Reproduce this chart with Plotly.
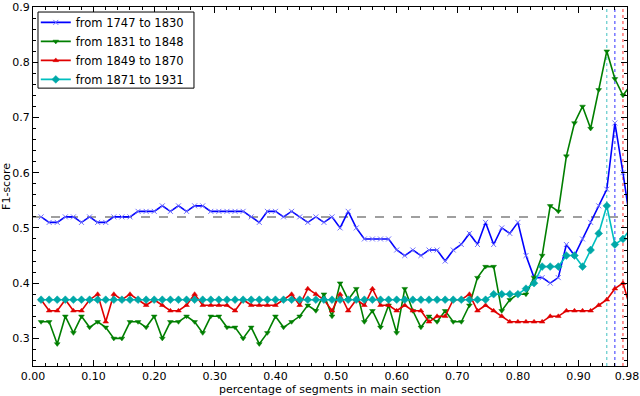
import plotly.graph_objects as go

# x grid: segment fractions (74 points, step 1/75)
x_vals = [i / 75 for i in range(1, 75)]

labels = ["from 1747 to 1830", "from 1831 to 1848", "from 1849 to 1870", "from 1871 to 1931"]

blue = [0.52, 0.51, 0.51, 0.52, 0.52, 0.51, 0.52, 0.51, 0.51, 0.52,
        0.52, 0.52, 0.53, 0.53, 0.53, 0.54, 0.53, 0.54, 0.53, 0.54,
        0.54, 0.53, 0.53, 0.53, 0.53, 0.53, 0.52, 0.51, 0.53, 0.53,
        0.52, 0.53, 0.52, 0.51, 0.52, 0.51, 0.52, 0.50, 0.53, 0.50,
        0.48, 0.48, 0.48, 0.48, 0.46, 0.45, 0.46, 0.45, 0.46, 0.46,
        0.44, 0.46, 0.47, 0.49, 0.47, 0.51, 0.47, 0.50, 0.49, 0.51,
        0.45, 0.41, 0.41, 0.40, 0.41, 0.47, 0.45, 0.48, 0.51, 0.54,
        0.57, 0.69, 0.60, 0.50]

green = [0.33, 0.33, 0.29, 0.34, 0.31, 0.34, 0.32, 0.33, 0.32, 0.30,
         0.30, 0.33, 0.33, 0.32, 0.34, 0.30, 0.33, 0.33, 0.34, 0.33,
         0.31, 0.34, 0.34, 0.32, 0.32, 0.30, 0.32, 0.29, 0.31, 0.34,
         0.32, 0.33, 0.34, 0.36, 0.35, 0.38, 0.34, 0.40, 0.37, 0.39,
         0.33, 0.35, 0.32, 0.36, 0.31, 0.39, 0.35, 0.32, 0.34, 0.33,
         0.35, 0.33, 0.33, 0.36, 0.41, 0.43, 0.43, 0.35, 0.37, 0.38,
         0.38, 0.41, 0.45, 0.54, 0.53, 0.63, 0.69, 0.72, 0.68, 0.75,
         0.82, 0.77, 0.74, 0.76]

red = [0.37, 0.35, 0.35, 0.37, 0.35, 0.35, 0.37, 0.38, 0.33, 0.38,
       0.37, 0.38, 0.37, 0.36, 0.37, 0.36, 0.35, 0.35, 0.36, 0.38,
       0.36, 0.36, 0.36, 0.36, 0.35, 0.37, 0.36, 0.36, 0.36, 0.36,
       0.37, 0.38, 0.36, 0.39, 0.38, 0.37, 0.35, 0.38, 0.35, 0.37,
       0.36, 0.39, 0.36, 0.36, 0.35, 0.36, 0.35, 0.35, 0.33, 0.34,
       0.34, 0.37, 0.37, 0.38, 0.35, 0.36, 0.35, 0.34, 0.33, 0.33,
       0.33, 0.33, 0.33, 0.34, 0.34, 0.35, 0.35, 0.35, 0.35, 0.36,
       0.37, 0.39, 0.40, 0.35]

teal = [0.37] * 56 + [0.38, 0.38, 0.38, 0.38, 0.39, 0.40, 0.43, 0.43, 0.43, 0.45,
                      0.45, 0.43, 0.46, 0.49, 0.54, 0.47, 0.48, 0.50]

baseline = 0.52
x_ticks = [0.0, 0.1, 0.2, 0.3, 0.4, 0.5, 0.6, 0.7, 0.8, 0.9, 0.98]
x_ticktext = ["0.00", "0.10", "0.20", "0.30", "0.40", "0.50", "0.60", "0.70", "0.80", "0.90", "0.98"]
y_ticks = [0.3, 0.4, 0.5, 0.6, 0.7, 0.8, 0.9]

series = [
    (labels[0], blue, "#0000ff", "x-thin", "#7070ff", 5),
    (labels[1], green, "#007f00", "triangle-down", "#007f00", 5),
    (labels[2], red, "#e00000", "triangle-up", "#e00000", 5),
    (labels[3], teal, "#00bfbf", "diamond", "#00a8a8", 6),
]

fig = go.Figure()

# vertical dotted lines at each series maximum (drawn under the data)
vcolors = ["#3030ff", "#40c0c0", "#ff3030", "#40c0c0"]
for (name, vals, col, sym, mcol, msz), vc in zip(series, vcolors):
    if name == labels[1]:
        continue
    imax = max(range(len(vals)), key=lambda i: vals[i])
    fig.add_shape(type="line", xref="x", yref="paper", x0=x_vals[imax], x1=x_vals[imax],
                  y0=0, y1=1, line=dict(color=vc, width=1, dash="dot"), layer="below")

fig.add_shape(type="line", xref="paper", yref="y", x0=0, x1=1, y0=baseline, y1=baseline,
              line=dict(color="#808080", width=1.5, dash="dash"), layer="below")

# legend frame
fig.add_shape(type="rect", xref="paper", yref="paper", x0=0.0084, x1=0.271, y0=0.774, y1=0.986,
              line=dict(color="black", width=1), fillcolor="white", layer="above")

for name, vals, col, sym, mcol, msz in series:
    if sym == "x-thin":
        marker = dict(symbol=sym, size=msz, line=dict(color=mcol, width=1), color=mcol)
    else:
        marker = dict(symbol=sym, size=msz, color=mcol, line=dict(color=mcol, width=0.5))
    fig.add_trace(go.Scatter(x=x_vals, y=vals, mode="lines+markers", name=name,
                             line=dict(color=col, width=1.6), marker=marker))

axis_common = dict(showline=True, linecolor="black", linewidth=1, mirror="ticks",
                   ticks="inside", ticklen=6, tickcolor="black", showgrid=False,
                   zeroline=False, automargin=False, tickfont=dict(size=11, color="black"))

fig.update_xaxes(range=[0, 0.98], tickvals=x_ticks, ticktext=x_ticktext, ticklabelstandoff=0,
                 minor=dict(dtick=0.02, tick0=0, ticks="inside", ticklen=3, tickcolor="black", showgrid=False),
                 title=dict(text="percentage of segments in main section", font=dict(size=11, color="black"), standoff=0),
                 **axis_common)
fig.update_yaxes(range=[0.25, 0.9], tickvals=y_ticks, ticktext=[f"{v:.1f}" for v in y_ticks],
                 minor=dict(dtick=0.02, tick0=0, ticks="inside", ticklen=3, tickcolor="black", showgrid=False),
                 title=dict(text="F1-score", font=dict(size=11, color="black"), standoff=2),
                 **axis_common)

fig.update_layout(
    width=640, height=396,
    margin=dict(l=33, r=13, t=7, b=30),
    paper_bgcolor="white", plot_bgcolor="white",
    font=dict(family="DejaVu Sans", color="black"),
    showlegend=True,
    legend=dict(x=0.0047, y=0.9975, xanchor="left", yanchor="top",
                borderwidth=0, bgcolor="rgba(0,0,0,0)",
                font=dict(size=11.5, color="black"), itemwidth=30,
                tracegroupgap=0, traceorder="normal"),
)

fig.write_html("out.html", config={"displayModeBar": False},
               post_script="document.body.style.margin='0';")
